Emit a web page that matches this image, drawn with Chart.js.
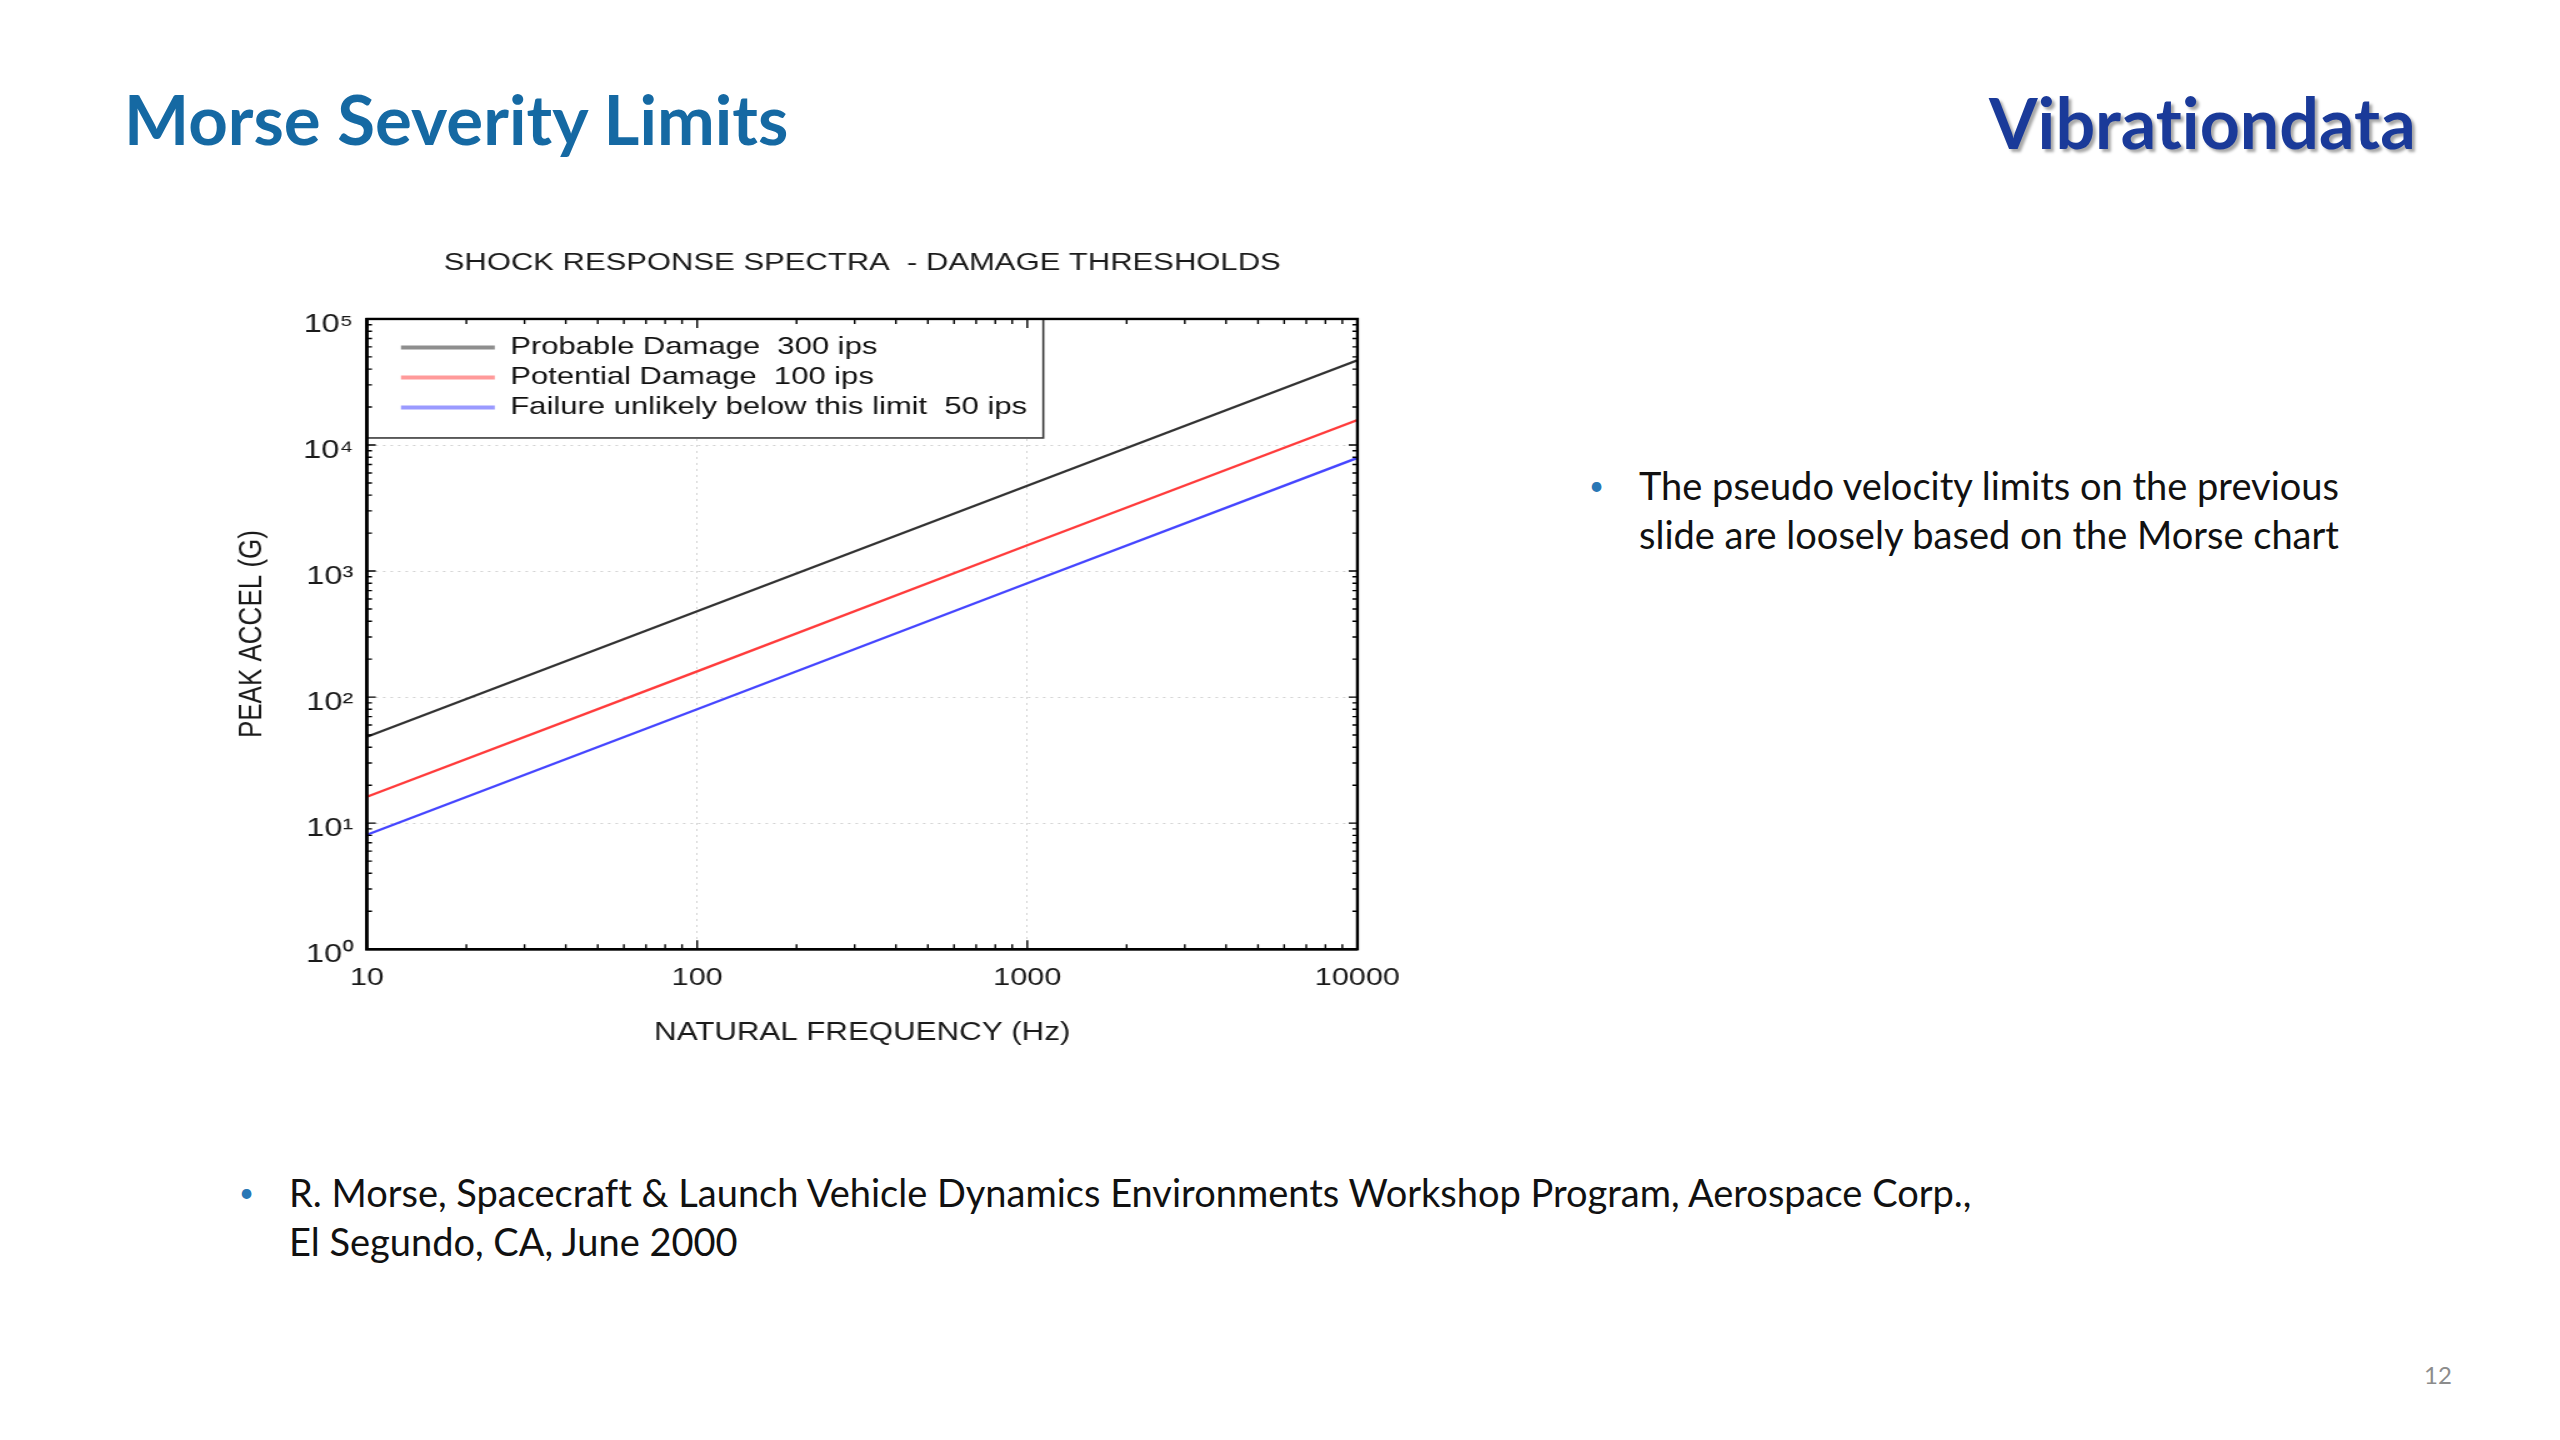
<!DOCTYPE html>
<html>
<head>
<meta charset="utf-8">
<script src="https://cdn.jsdelivr.net/npm/chart.js@4.4.1/dist/chart.umd.min.js"></script>
<style>
  html, body { margin: 0; padding: 0; background: #ffffff; }
  body { width: 2560px; height: 1440px; position: relative; overflow: hidden; font-family: 'Lato', 'Open Sans', sans-serif; font-variant-ligatures: none; }
  .slide-title { position: absolute; left: 124px; top: 84px; font-size: 69px; line-height: 69px; font-weight: 700; color: #1569a3; white-space: nowrap; }
  .brand { position: absolute; left: 1989px; top: 87px; font-size: 70px; line-height: 70px; font-weight: 700; color: #1a3a99; white-space: nowrap; text-shadow: 3px 3px 3px rgba(0,0,0,0.35); }
  .bullet { position: absolute; font-size: 38px; line-height: 49px; color: #111; white-space: nowrap; }
  .bullet .dot { position: absolute; left: -50px; top: 0; font-size: 26px; color: #2a77b5; }
  .pagenum { position: absolute; left: 2424px; top: 1360px; font-size: 24px; color: #8c8c8c; }
  #chartBox { position: absolute; left: 220px; top: 220px; width: 958px; height: 832px; transform: scaleX(1.25); transform-origin: 0 0; }
  #c { display: block; width: 958px; height: 832px; }
</style>
</head>
<body>
<div class="slide-title">Morse Severity Limits</div>
<div class="brand">Vibrationdata</div>

<div class="bullet" style="left:1639px; top:461px;"><span class="dot">•</span>The pseudo velocity limits on the previous<br>slide are loosely based on the Morse chart</div>

<div class="bullet" style="left:289px; top:1168px;"><span class="dot">•</span>R. Morse, Spacecraft &amp; Launch Vehicle Dynamics Environments Workshop Program, Aerospace Corp.,<br>El Segundo, CA, June 2000</div>

<div class="pagenum">12</div>

<div id="chartBox"><canvas id="c" width="958" height="832"></canvas></div>

<script>
// ---- data ----
const frequencies = [10, 100, 1000, 10000];            // Hz
const probableDamage = [48.5, 480, 4750, 47000];       // G, 300 ips
const potentialDamage = [16.2, 160, 1600, 15800];      // G, 100 ips
const failureUnlikely = [8.1, 80, 800, 7900];          // G, 50 ips
const seriesLabels = ['Probable Damage  300 ips', 'Potential Damage  100 ips', 'Failure unlikely below this limit  50 ips'];
const xTickValues = [10, 100, 1000, 10000];
const yTickValues = [1, 10, 100, 1000, 10000, 100000];
const chartTitle = 'SHOCK RESPONSE SPECTRA  - DAMAGE THRESHOLDS';
const xTitle = 'NATURAL FREQUENCY (Hz)';
const yTitle = 'PEAK ACCEL (G)';

const lineColors = ['#333333', '#ff3c3c', '#4646ff'];
const legendColors = ['#8e8e8e', '#ff9a9a', '#9a9aff'];
const SUP = ['\u2070', '\u00B9', '\u00B2', '\u00B3', '\u2074', '\u2075'];

function pts(vals) { return frequencies.map((f, i) => ({ x: f, y: vals[i] })); }

Chart.defaults.font.family = "'Liberation Sans', Arial, sans-serif";
Chart.defaults.color = '#1a1a1a';

// frame + minor ticks drawn through the chart's own scales
const framePlugin = {
  id: 'frame',
  afterDatasetsDraw(chart) {
    const { ctx, chartArea: a, scales: { x, y } } = chart;
    ctx.save();
    ctx.strokeStyle = '#000';
    ctx.lineWidth = 1.4;
    ctx.beginPath();
    for (let k = 1; k < 4; k++) {
      for (let m = 1; m <= 9; m++) {
        const px = x.getPixelForValue(m * Math.pow(10, k));
        const len = m === 1 ? 9 : 5;
        ctx.moveTo(px, a.bottom); ctx.lineTo(px, a.bottom - len);
        ctx.moveTo(px, a.top); ctx.lineTo(px, a.top + len);
      }
    }
    for (let k = 0; k < 5; k++) {
      for (let m = 1; m <= 9; m++) {
        const py = y.getPixelForValue(m * Math.pow(10, k));
        const len = m === 1 ? 7 : 4;
        ctx.moveTo(a.left, py); ctx.lineTo(a.left + len, py);
        ctx.moveTo(a.right, py); ctx.lineTo(a.right - len, py);
      }
    }
    ctx.stroke();
    ctx.lineWidth = 2.4;
    ctx.strokeRect(a.left, a.top, a.right - a.left, a.bottom - a.top);
    ctx.restore();
  }
};

// legend offset inside plot + white framed box behind it
const legendBoxPlugin = {
  id: 'legendBox',
  afterLayout(chart) {
    const lg = chart.legend, a = chart.chartArea;
    if (!lg) return;
    lg.left = a.left + 22;
    lg.top = a.top + 11;
  },
  beforeDraw(chart) {
    const lg = chart.legend;
    if (!lg || lg._boxWrapped) return;
    const orig = lg.draw;
    lg.draw = function () {
      const hb = lg.legendHitBoxes, a = chart.chartArea, ctx = chart.ctx;
      if (hb && hb.length) {
        const right = Math.max(...hb.map(h => h.left + h.width)) + 13;
        const last = hb[hb.length - 1];
        const bottom = last.top + last.height + 18;
        ctx.save();
        ctx.fillStyle = '#ffffff';
        ctx.fillRect(a.left, a.top, right - a.left, bottom - a.top);
        ctx.strokeStyle = '#3a3a3a';
        ctx.lineWidth = 1.6;
        ctx.strokeRect(a.left, a.top, right - a.left, bottom - a.top);
        ctx.restore();
      }
      return orig.apply(lg, arguments);
    };
    lg._boxWrapped = true;
  }
};

const chart = new Chart(document.getElementById('c'), {
  type: 'line',
  data: {
    datasets: [
      { label: seriesLabels[0], data: pts(probableDamage), borderColor: lineColors[0], backgroundColor: legendColors[0] },
      { label: seriesLabels[1], data: pts(potentialDamage), borderColor: lineColors[1], backgroundColor: legendColors[1] },
      { label: seriesLabels[2], data: pts(failureUnlikely), borderColor: lineColors[2], backgroundColor: legendColors[2] }
    ]
  },
  options: {
    responsive: false,
    devicePixelRatio: 1,
    animation: false,
    layout: { padding: 0 },
    elements: { point: { radius: 0 }, line: { borderWidth: 2.3, tension: 0 } },
    plugins: {
      tooltip: { enabled: false },
      title: {
        display: true, text: chartTitle, fullSize: false,
        font: { size: 24.8, weight: 'normal' }, color: '#1a1a1a',
        padding: { top: 28.6, bottom: 40.6 }
      },
      legend: {
        display: true, position: 'chartArea', align: 'start',
        labels: {
          font: { size: 24.8 }, color: '#111', boxWidth: 75, boxHeight: 4, padding: 5.2,
          generateLabels(ch) {
            const items = Chart.defaults.plugins.legend.labels.generateLabels(ch);
            items.forEach((it, i) => { it.fillStyle = legendColors[i]; it.strokeStyle = legendColors[i]; it.lineWidth = 0; });
            return items;
          }
        }
      }
    },
    scales: {
      x: {
        type: 'logarithmic', position: 'bottom', min: 10, max: 10000,
        afterBuildTicks(s) { s.ticks = xTickValues.map(v => ({ value: v, major: true })); },
        ticks: { font: { size: 24.5 }, color: '#1a1a1a', padding: 14, maxRotation: 0, autoSkip: false,
                 callback: (v) => String(v) },
        grid: { color: '#d2d2d2', lineWidth: 1, drawTicks: false },
        border: { display: true, color: '#000', width: 2.4, dash: [2, 4] },
        title: { display: true, text: xTitle, font: { size: 25 }, color: '#1a1a1a', padding: { top: 11.4, bottom: 4 } }
      },
      y: {
        type: 'logarithmic', position: 'left', min: 1, max: 100000,
        afterBuildTicks(s) { s.ticks = yTickValues.map(v => ({ value: v, major: true })); },
        afterFit(s) { s.width = 117.6; },
        ticks: { font: { size: 26 }, color: '#1a1a1a', padding: 11, labelOffset: 6, autoSkip: false,
                 callback: (v) => '10' + SUP[Math.round(Math.log10(v))] },
        grid: { color: '#d2d2d2', lineWidth: 1, drawTicks: false },
        border: { display: true, color: '#000', width: 2.4, dash: [2, 4] },
        title: { display: true, text: yTitle, font: { size: 26 }, color: '#1a1a1a', padding: { top: 10.4, bottom: 0 } }
      }
    }
  },
  plugins: [legendBoxPlugin, framePlugin]
});
</script>
</body>
</html>
